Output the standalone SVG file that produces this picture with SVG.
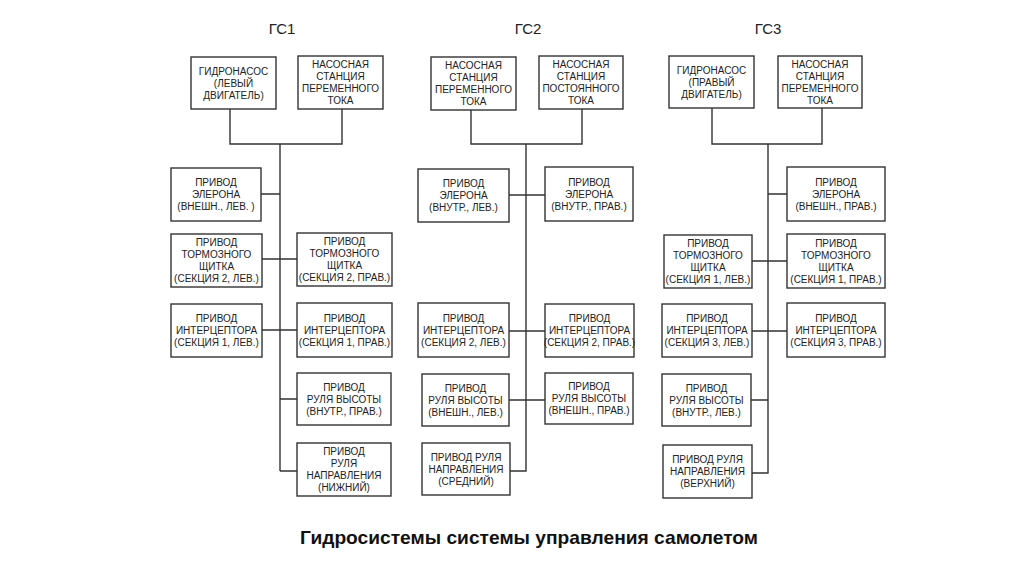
<svg xmlns="http://www.w3.org/2000/svg" width="1024" height="574" viewBox="0 0 1024 574">
<style>
.box{fill:#fff;stroke:#333;stroke-width:1.4}
.t{font-family:"Liberation Sans",Arial,sans-serif;font-size:10px;fill:#222;text-anchor:middle}
.h{font-family:"Liberation Sans",Arial,sans-serif;font-size:15px;fill:#222;text-anchor:middle}
.f{font-family:"Liberation Sans",Arial,sans-serif;font-size:19px;font-weight:bold;fill:#111;text-anchor:middle}
.c{fill:none;stroke:#333;stroke-width:1.4}
</style>
<rect width="1024" height="574" fill="#fff"/>
<text class="h" x="282" y="34">ГС1</text>
<text class="h" x="528" y="34">ГС2</text>
<text class="h" x="768" y="34">ГС3</text>
<g id="connectors" class="c">
<path d="M230,109 V144 H342 V109 M280,144 V471 M261,194 H280 M262,259 H297 M262,330 H297 M280,399 H297 M280,471 H297"/>
<path d="M471,110 V144 H582 V109 M526,144 V471 H510 M509,195 H545 M509,331 H545 M509,400 H545"/>
<path d="M712,108 V144 H822 V108 M768,144 V473 H752 M768,194 H787 M752,261 H787 M752,331 H787 M751,400 H768"/>
</g>
<g id="n1a"><rect class="box" x="191" y="57" width="85" height="52"/><text class="t"><tspan x="233.5" y="74.6">ГИДРОНАСОС</tspan><tspan x="233.5" dy="12">(ЛЕВЫЙ</tspan><tspan x="233.5" dy="12">ДВИГАТЕЛЬ)</tspan></text></g>
<g id="n1b"><rect class="box" x="298" y="56" width="85" height="53"/><text class="t"><tspan x="340.5" y="68.1">НАСОСНАЯ</tspan><tspan x="340.5" dy="12">СТАНЦИЯ</tspan><tspan x="340.5" dy="12">ПЕРЕМЕННОГО</tspan><tspan x="340.5" dy="12">ТОКА</tspan></text></g>
<g id="n1c"><rect class="box" x="171" y="168" width="90" height="53"/><text class="t"><tspan x="216" y="186.1">ПРИВОД</tspan><tspan x="216" dy="12">ЭЛЕРОНА</tspan><tspan x="216" dy="12">(ВНЕШН., ЛЕВ. )</tspan></text></g>
<g id="n1d"><rect class="box" x="171" y="234" width="91" height="53"/><text class="t"><tspan x="216.5" y="246.1">ПРИВОД</tspan><tspan x="216.5" dy="12">ТОРМОЗНОГО</tspan><tspan x="216.5" dy="12">ЩИТКА</tspan><tspan x="216.5" dy="12">(СЕКЦИЯ 2, ЛЕВ.)</tspan></text></g>
<g id="n1e"><rect class="box" x="297" y="233" width="95" height="53"/><text class="t"><tspan x="344.5" y="245.1">ПРИВОД</tspan><tspan x="344.5" dy="12">ТОРМОЗНОГО</tspan><tspan x="344.5" dy="12">ЩИТКА</tspan><tspan x="344.5" dy="12">(СЕКЦИЯ 2, ПРАВ.)</tspan></text></g>
<g id="n1f"><rect class="box" x="171" y="304" width="91" height="53"/><text class="t"><tspan x="216.5" y="322.1">ПРИВОД</tspan><tspan x="216.5" dy="12">ИНТЕРЦЕПТОРА</tspan><tspan x="216.5" dy="12">(СЕКЦИЯ 1, ЛЕВ.)</tspan></text></g>
<g id="n1g"><rect class="box" x="297" y="303" width="95" height="54"/><text class="t"><tspan x="344.5" y="321.6">ПРИВОД</tspan><tspan x="344.5" dy="12">ИНТЕРЦЕПТОРА</tspan><tspan x="344.5" dy="12">(СЕКЦИЯ 1, ПРАВ.)</tspan></text></g>
<g id="n1h"><rect class="box" x="297" y="373" width="94" height="52"/><text class="t"><tspan x="344" y="390.6">ПРИВОД</tspan><tspan x="344" dy="12">РУЛЯ ВЫСОТЫ</tspan><tspan x="344" dy="12">(ВНУТР., ПРАВ.)</tspan></text></g>
<g id="n1i"><rect class="box" x="297" y="443" width="94" height="53"/><text class="t"><tspan x="344" y="455.1">ПРИВОД</tspan><tspan x="344" dy="12">РУЛЯ</tspan><tspan x="344" dy="12">НАПРАВЛЕНИЯ</tspan><tspan x="344" dy="12">(НИЖНИЙ)</tspan></text></g>
<g id="n2a"><rect class="box" x="431" y="57" width="85" height="53"/><text class="t"><tspan x="473.5" y="69.1">НАСОСНАЯ</tspan><tspan x="473.5" dy="12">СТАНЦИЯ</tspan><tspan x="473.5" dy="12">ПЕРЕМЕННОГО</tspan><tspan x="473.5" dy="12">ТОКА</tspan></text></g>
<g id="n2b"><rect class="box" x="539" y="56" width="84" height="53"/><text class="t"><tspan x="581" y="68.1">НАСОСНАЯ</tspan><tspan x="581" dy="12">СТАНЦИЯ</tspan><tspan x="581" dy="12">ПОСТОЯННОГО</tspan><tspan x="581" dy="12">ТОКА</tspan></text></g>
<g id="n2c"><rect class="box" x="418" y="169" width="91" height="53"/><text class="t"><tspan x="463.5" y="187.1">ПРИВОД</tspan><tspan x="463.5" dy="12">ЭЛЕРОНА</tspan><tspan x="463.5" dy="12">(ВНУТР., ЛЕВ.)</tspan></text></g>
<g id="n2d"><rect class="box" x="545" y="167" width="88" height="54"/><text class="t"><tspan x="589" y="185.6">ПРИВОД</tspan><tspan x="589" dy="12">ЭЛЕРОНА</tspan><tspan x="589" dy="12">(ВНУТР., ПРАВ.)</tspan></text></g>
<g id="n2e"><rect class="box" x="418" y="303" width="91" height="54"/><text class="t"><tspan x="463.5" y="321.6">ПРИВОД</tspan><tspan x="463.5" dy="12">ИНТЕРЦЕПТОРА</tspan><tspan x="463.5" dy="12">(СЕКЦИЯ 2, ЛЕВ.)</tspan></text></g>
<g id="n2f"><rect class="box" x="545" y="304" width="89" height="53"/><text class="t"><tspan x="589.5" y="322.1">ПРИВОД</tspan><tspan x="589.5" dy="12">ИНТЕРЦЕПТОРА</tspan><tspan x="589.5" dy="12">(СЕКЦИЯ 2, ПРАВ.)</tspan></text></g>
<g id="n2g"><rect class="box" x="422" y="374" width="87" height="52"/><text class="t"><tspan x="465.5" y="391.6">ПРИВОД</tspan><tspan x="465.5" dy="12">РУЛЯ ВЫСОТЫ</tspan><tspan x="465.5" dy="12">(ВНЕШН., ЛЕВ.)</tspan></text></g>
<g id="n2h"><rect class="box" x="545" y="373" width="88" height="51"/><text class="t"><tspan x="589" y="390.1">ПРИВОД</tspan><tspan x="589" dy="12">РУЛЯ ВЫСОТЫ</tspan><tspan x="589" dy="12">(ВНЕШН., ПРАВ.)</tspan></text></g>
<g id="n2i"><rect class="box" x="422" y="443" width="88" height="52"/><text class="t"><tspan x="466" y="460.6">ПРИВОД РУЛЯ</tspan><tspan x="466" dy="12">НАПРАВЛЕНИЯ</tspan><tspan x="466" dy="12">(СРЕДНИЙ)</tspan></text></g>
<g id="n3a"><rect class="box" x="669" y="56" width="85" height="52"/><text class="t"><tspan x="711.5" y="73.6">ГИДРОНАСОС</tspan><tspan x="711.5" dy="12">(ПРАВЫЙ</tspan><tspan x="711.5" dy="12">ДВИГАТЕЛЬ)</tspan></text></g>
<g id="n3b"><rect class="box" x="778" y="56" width="84" height="52"/><text class="t"><tspan x="820" y="67.6">НАСОСНАЯ</tspan><tspan x="820" dy="12">СТАНЦИЯ</tspan><tspan x="820" dy="12">ПЕРЕМЕННОГО</tspan><tspan x="820" dy="12">ТОКА</tspan></text></g>
<g id="n3c"><rect class="box" x="787" y="167" width="98" height="54"/><text class="t"><tspan x="836" y="185.6">ПРИВОД</tspan><tspan x="836" dy="12">ЭЛЕРОНА</tspan><tspan x="836" dy="12">(ВНЕШН., ПРАВ.)</tspan></text></g>
<g id="n3d"><rect class="box" x="664" y="235" width="88" height="53"/><text class="t"><tspan x="708" y="247.1">ПРИВОД</tspan><tspan x="708" dy="12">ТОРМОЗНОГО</tspan><tspan x="708" dy="12">ЩИТКА</tspan><tspan x="708" dy="12">(СЕКЦИЯ 1, ЛЕВ.)</tspan></text></g>
<g id="n3e"><rect class="box" x="787" y="234" width="98" height="54"/><text class="t"><tspan x="836" y="246.6">ПРИВОД</tspan><tspan x="836" dy="12">ТОРМОЗНОГО</tspan><tspan x="836" dy="12">ЩИТКА</tspan><tspan x="836" dy="12">(СЕКЦИЯ 1, ПРАВ.)</tspan></text></g>
<g id="n3f"><rect class="box" x="662" y="304" width="90" height="53"/><text class="t"><tspan x="707" y="322.1">ПРИВОД</tspan><tspan x="707" dy="12">ИНТЕРЦЕПТОРА</tspan><tspan x="707" dy="12">(СЕКЦИЯ 3, ЛЕВ.)</tspan></text></g>
<g id="n3g"><rect class="box" x="787" y="303" width="98" height="54"/><text class="t"><tspan x="836" y="321.6">ПРИВОД</tspan><tspan x="836" dy="12">ИНТЕРЦЕПТОРА</tspan><tspan x="836" dy="12">(СЕКЦИЯ 3, ПРАВ.)</tspan></text></g>
<g id="n3h"><rect class="box" x="662" y="374" width="89" height="52"/><text class="t"><tspan x="706.5" y="391.6">ПРИВОД</tspan><tspan x="706.5" dy="12">РУЛЯ ВЫСОТЫ</tspan><tspan x="706.5" dy="12">(ВНУТР., ЛЕВ.)</tspan></text></g>
<g id="n3i"><rect class="box" x="663" y="445" width="89" height="53"/><text class="t"><tspan x="707.5" y="463.1">ПРИВОД РУЛЯ</tspan><tspan x="707.5" dy="12">НАПРАВЛЕНИЯ</tspan><tspan x="707.5" dy="12">(ВЕРХНИЙ)</tspan></text></g>
<text class="f" x="529" y="544" textLength="458" lengthAdjust="spacingAndGlyphs">Гидросистемы системы управления самолетом</text>
</svg>
